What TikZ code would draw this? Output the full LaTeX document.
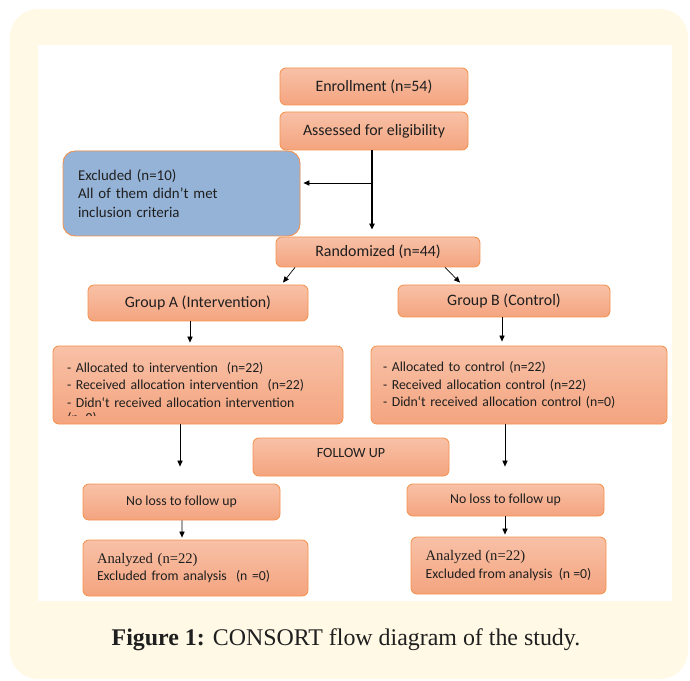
\documentclass[tikz,border=0pt]{standalone}
\usepackage{fontspec}
\setmainfont{Carlito}
\newfontfamily\serifcap{Liberation Serif}
\usetikzlibrary{arrows.meta,calc}

\definecolor{cream}{HTML}{FFF9E6}
\definecolor{boxtop}{HTML}{F8C1A7}
\definecolor{boxbot}{HTML}{F4A47F}
\definecolor{boxline}{HTML}{F4924E}
\definecolor{exclblue}{HTML}{95B3D7}

\begin{document}
\begin{tikzpicture}[x=0.025cm, y=-0.025cm,
    every node/.style={font=\fontsize{11.3}{13.5}\selectfont, text=black!88},
    sz/.style 2 args={minimum width=#1*0.025cm, minimum height=#2*0.025cm},
    txw/.style={text width=#1*0.025cm, align=left},
    bx/.style={draw=boxline, line width=0.6pt, rounded corners=1.5mm,
               top color=boxtop, bottom color=boxbot, inner sep=0pt},
    bxb/.style={bx, rounded corners=3mm, fill=exclblue, top color=exclblue, bottom color=exclblue},
    sm/.style={font=\fontsize{9.8}{12.6}\selectfont},
    e/.style={-{Triangle[length=1.5mm, width=1.3mm]}, line width=0.5pt},
    eb/.style={e, line width=1.4pt},
  ]
  \useasboundingbox (0,0) rectangle (690,681);
  \fill[cream, rounded corners=7mm] (10,9) rectangle (688,679);
  \fill[white] (38,45) rectangle (672,601);

  \node[bx, sz={188}{37}] (enrol) at (374,86.5) {Enrollment (n=54)};
  \node[bx, sz={188}{38}] (assess) at (374,131) {Assessed for eligibility};
  \node[bxb, sz={237}{85}, txw={207}, font=\fontsize{10.6}{13.4}\selectfont] (excl) at (181.5,193.5)
    {Excluded (n=10)\\All of them didn’t met\\inclusion criteria};
  \node[bx, sz={204}{30}] (rand) at (378,252) {Randomized (n=44)};
  \node[bx, sz={220}{36}] (grpA) at (198,303) {Group A (Intervention)};
  \node[bx, sz={212}{32}] (grpB) at (504,301) {Group B (Control)};
  \node[bx, sm, sz={290}{78}, txw={262}] (allocA) at (198,385)
    {- Allocated to intervention\ \ (n=22)\\- Received allocation intervention\ \ (n=22)\\- Didn`t received allocation intervention};
  \node[bx, sm, sz={296}{78}, txw={272}] (allocB) at (519,385)
    {- Allocated to control (n=22)\\- Received allocation control (n=22)\\- Didn`t received allocation control (n=0)};
  \node[bx, sz={196}{38}, font=\fontsize{10}{12}\selectfont, text depth=6pt] (follow) at (351,457) {FOLLOW UP};
  \node[bx, sm, sz={197}{36}] (lossA) at (181.5,502) {No loss to follow up};
  \node[bx, sm, sz={197}{32}] (lossB) at (505.5,500) {No loss to follow up};
  \node[bx, sm, sz={225}{56}, txw={197}] (anA) at (195.5,568)
    {{\serifcap\fontsize{10.4}{12.6}\selectfont Analyzed (n=22)}\\Excluded from analysis\ \ (n =0)};
  \node[bx, sm, sz={195}{57}, align=left] (anB) at (508.5,565.5)
    {{\serifcap\fontsize{10.4}{12.6}\selectfont Analyzed (n=22)}\\Excluded from analysis\ \ (n =0)};

  \begin{scope}
    \clip (allocA.north west) rectangle ($(allocA.south east)+(0,-9)$);
    \node[sm, anchor=base west, inner sep=0pt] (allocAn) at (67,422) {(n=0)};
  \end{scope}

  \node[font=\serifcap\fontsize{17}{20}\selectfont] (cap) at (346,640)
    {\textbf{Figure 1:} CONSORT flow diagram of the study.};

  \coordinate (split) at (372,183);
  \draw[eb] (split |- assess.south) -- ($(split |- rand.north)+(0,-7)$);
  \draw[e] (split) -- ($(split -| excl.east)+(3,0)$);
  \draw[e] ($(rand.south)+(-83,0)$) -- ($(grpA.north)+(85,-2)$);
  \draw[e] ($(rand.south)+(67,0)$) -- ($(grpB.north)+(-44,-2)$);
  \draw[e] ($(grpA.south)+(-8,0)$) -- ($(allocA.north)+(-8,-3)$);
  \draw[e] ($(grpB.south)+(-2,0)$) -- ($(allocB.north)+(-17,-4)$);
  \draw[e] ($(allocA.south)+(-18,0)$) -- ($(lossA.north)+(-1.5,-17)$);
  \draw[e] ($(allocB.south)+(-14,0)$) -- ($(lossB.north)+(-0.5,-17)$);
  \draw[e] ($(lossA.south)+(0.5,0)$) -- ($(anA.north)+(-13.5,-2)$);
  \draw[e] ($(lossB.south)+(-0.5,0)$) -- ($(anB.north)+(-3.5,-2)$);
\end{tikzpicture}
\end{document}
